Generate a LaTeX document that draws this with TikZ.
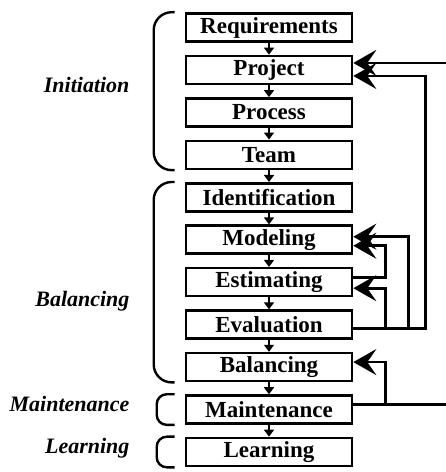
\documentclass[tikz,border=0pt]{standalone}
\usepackage{fontspec}
\setmainfont{Liberation Serif}
\usetikzlibrary{positioning,arrows.meta}
\tikzset{
  stepbox/.style={
    rectangle,
    draw=black, line width=2.6pt,
    minimum width=166pt,
    minimum height=28pt,
    inner sep=0pt,
    font=\fontsize{23}{26}\selectfont\bfseries},
  flow/.style={draw, line width=1.4pt, -{Triangle[length=7pt,width=10pt]}},
  feedback/.style={draw, line width=2.8pt, -{Stealth[length=23pt,width=26pt,inset=9pt]}},
  bracket/.style={draw, line width=2.4pt, rounded corners=#1},
  bracket/.default=18pt,
  phase/.style={anchor=base east, font=\fontsize{22}{26}\selectfont\bfseries\itshape},
}
\begin{document}
\begin{tikzpicture}[x=1pt,y=1pt,node distance=11.85pt]
\useasboundingbox (0,0) rectangle (446,472);

% the steps
\node[stepbox] (req) at (269,444.5) {Requirements};
\node[stepbox, below=of req] (proj) {Project};
\node[stepbox, below=of proj] (proc) {Process};
\node[stepbox, below=of proc] (team) {Team};
\node[stepbox, below=of team] (ident) {Identification};
\node[stepbox, below=of ident] (model) {Modeling};
\node[stepbox, below=of model] (esti) {Estimating};
\node[stepbox, below=of esti] (eval) {Evaluation};
\node[stepbox, below=of eval] (bal) {Balancing};
\node[stepbox, below=of bal] (maint) {Maintenance};
\node[stepbox, below=of maint] (learn) {Learning};

\foreach \a/\b in {req/proj,proj/proc,proc/team,team/ident,ident/model,%
    model/esti,esti/eval,eval/bal,bal/maint,maint/learn}
  \draw[flow] (\a) -- (\b);

% feedback loops
\draw[feedback] ([yshift=5pt]maint.east) -- ++(107,0) |- ([yshift=7pt]proj.east);
\draw[feedback] ([yshift=5pt]maint.east) -- ++(32,0) |- ([yshift=5pt]bal.east);
\draw[feedback] ([yshift=-4pt]eval.east) -- ++(72,0) |- ([yshift=-6pt]proj.east);
\draw[feedback] ([yshift=-4pt]eval.east) -- ++(55,0) |- ([yshift=3pt]model.east);
\draw[feedback] ([yshift=-4pt]eval.east) -- ++(32,0) |- ([yshift=-6pt]esti.east);
\draw[feedback] ([yshift=5pt]esti.east) -- ++(32,0) |- ([yshift=-6pt]model.east);

% phases
\draw[bracket] ([xshift=-10pt]req.north west) -- ++(-21,0) |- ([xshift=-10pt]team.south west);
\draw[bracket] ([xshift=-10pt]ident.north west) -- ++(-21,0) |- ([xshift=-10pt]bal.south west);
\draw[bracket=10pt] ([xshift=-10pt]maint.north west) -- ++(-18,0) |- ([xshift=-10pt]maint.south west);
\draw[bracket=10pt] ([xshift=-10pt]learn.north west) -- ++(-18,0) |- ([xshift=-10pt]learn.south west);

\node[phase] (initlabel) at (133,379) {Initiation};
\node[phase] (ballabel) at (133,165) {Balancing};
\node[phase] (mainlabel) at (133,60) {Maintenance};
\node[phase] (learnlabel) at (133,19) {Learning};

\end{tikzpicture}
\end{document}
